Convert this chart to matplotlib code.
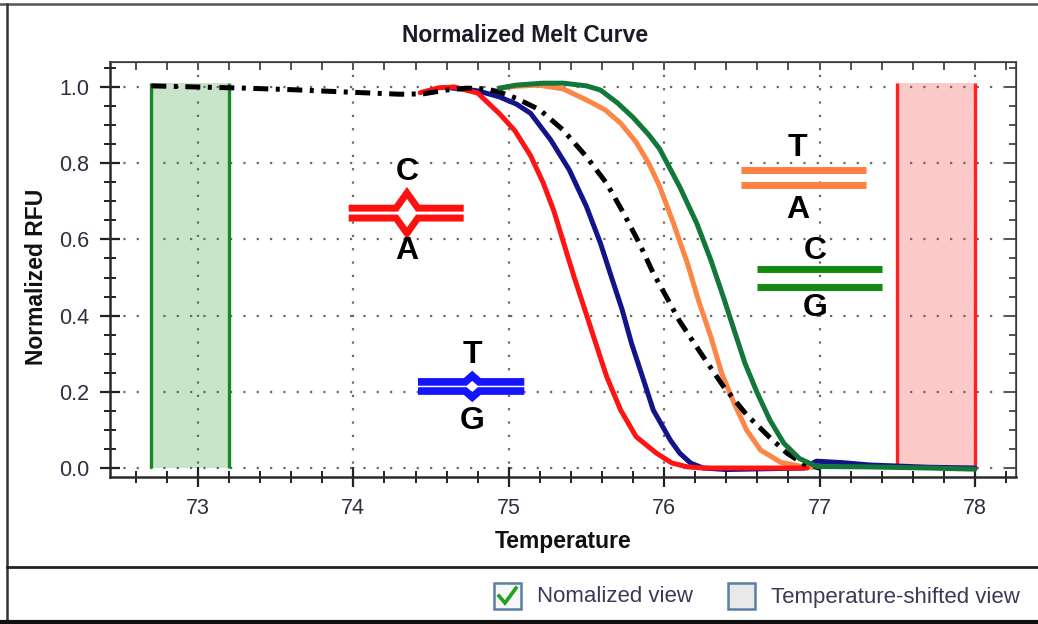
import matplotlib
matplotlib.use("Agg")
import matplotlib.pyplot as plt
from matplotlib.lines import Line2D
from matplotlib.patches import Rectangle
from matplotlib.ticker import MultipleLocator, FormatStrFormatter

plt.rcParams['font.family'] = ['Liberation Sans', 'DejaVu Sans']

# ---- melt curves (temperature, normalized RFU) ----
temp_black = [72.70, 73.00, 73.30, 73.60, 74.00, 74.30, 74.45, 74.60, 74.73, 74.85, 74.94,
              75.05, 75.20, 75.35, 75.50, 75.63, 75.74, 75.84, 75.93, 76.02, 76.10, 76.23,
              76.38, 76.53, 76.68, 76.79, 76.90, 77.00]
rfu_black = [1.003, 1.000, 0.997, 0.993, 0.986, 0.981, 0.982, 0.992, 0.997, 0.995, 0.987,
             0.970, 0.940, 0.887, 0.817, 0.747, 0.668, 0.590, 0.511, 0.445, 0.385, 0.305,
             0.215, 0.140, 0.080, 0.039, 0.010, 0.000]

temp_red = [74.43, 74.55, 74.65, 74.80, 74.94, 75.04, 75.14, 75.22, 75.29, 75.35, 75.42,
            75.49, 75.56, 75.63, 75.72, 75.82, 75.95, 76.05, 76.15, 76.25, 76.60, 76.92]
rfu_red = [0.985, 0.998, 1.000, 0.984, 0.930, 0.885, 0.820, 0.750, 0.675, 0.595, 0.502,
           0.415, 0.327, 0.240, 0.152, 0.082, 0.039, 0.013, 0.003, 0.000, 0.000, 0.000]

temp_blue = [74.62, 74.80, 74.94, 75.05, 75.14, 75.27, 75.39, 75.50, 75.59, 75.66, 75.73,
             75.79, 75.86, 75.93, 76.04, 76.10, 76.17, 76.25, 76.40, 76.90, 76.98, 77.15,
             77.32, 77.70, 78.00]
rfu_blue = [0.998, 0.990, 0.974, 0.955, 0.931, 0.861, 0.782, 0.686, 0.590, 0.502, 0.415,
            0.327, 0.240, 0.152, 0.073, 0.039, 0.013, 0.000, -0.004, 0.000, 0.018, 0.014,
            0.008, 0.002, 0.000]

temp_orange = [74.94, 75.05, 75.19, 75.35, 75.50, 75.62, 75.72, 75.82, 75.90, 75.97, 76.06,
               76.15, 76.22, 76.30, 76.37, 76.45, 76.53, 76.62, 76.75, 76.87, 76.95]
rfu_orange = [0.997, 1.002, 1.005, 0.995, 0.966, 0.940, 0.905, 0.855, 0.800, 0.740, 0.642,
              0.537, 0.441, 0.345, 0.249, 0.170, 0.100, 0.047, 0.015, 0.005, 0.002]

temp_green = [74.94, 75.05, 75.22, 75.35, 75.50, 75.59, 75.70, 75.80, 75.90, 75.97, 76.10,
              76.21, 76.30, 76.38, 76.45, 76.52, 76.60, 76.68, 76.77, 76.87, 76.98, 77.30,
              77.70, 78.00]
rfu_green = [0.997, 1.005, 1.010, 1.010, 1.003, 0.992, 0.958, 0.920, 0.875, 0.838, 0.738,
             0.642, 0.546, 0.450, 0.362, 0.275, 0.196, 0.126, 0.065, 0.025, 0.004, 0.003,
             0.000, -0.003]

# melt regions (start, end) and their top
pre_melt = (72.7, 73.2)
post_melt = (77.5, 78.0)
region_top = 1.01

x_ticks = [73, 74, 75, 76, 77, 78]
y_ticks = [0.0, 0.2, 0.4, 0.6, 0.8, 1.0]

W, H = 1038, 624
fig = plt.figure(figsize=(W / 100, H / 100), dpi=100)
ax = fig.add_axes([110 / W, (H - 477) / H, 906 / W, 415 / H])

# shaded melt regions
ax.fill_between(pre_melt, 0, region_top, color='#c9e5c9', zorder=1, lw=0)
ax.vlines(pre_melt, 0, region_top, color='#168a24', lw=2.4, zorder=2)
ax.fill_between(post_melt, 0, region_top, color='#fcc9c9', zorder=1, lw=0)
ax.vlines(post_melt, 0, region_top, color='#ff2020', lw=2.4, zorder=2)

# curves
lw = 3.6
ax.plot(temp_blue, rfu_blue, color='#13138a', lw=lw, zorder=3, solid_capstyle='round', solid_joinstyle='round')
ax.plot(temp_red, rfu_red, color='#ff1414', lw=lw, zorder=4, solid_capstyle='round', solid_joinstyle='round')
ax.plot(temp_orange, rfu_orange, color='#fb8646', lw=lw, zorder=3, solid_capstyle='round', solid_joinstyle='round')
ax.plot(temp_black, rfu_black, color='black', lw=lw, zorder=5,
        linestyle=(0, (3.0, 1.5, 0.8, 1.5)))
ax.plot(temp_green, rfu_green, color='#13773a', lw=lw, zorder=6, solid_capstyle='round', solid_joinstyle='round')


def base_pair(x0, x1, xc, y_up, y_lo, color, top, bottom, y_top, y_bot, bump=None, lw=5):
    if bump:
        hw, h = bump
        xs = [x0, xc - hw, xc, xc + hw, x1]
        ax.plot(xs, [y_up, y_up, y_up + h, y_up, y_up], color=color, lw=lw,
                solid_joinstyle='miter', solid_capstyle='butt', zorder=7)
        ax.plot(xs, [y_lo, y_lo, y_lo - h, y_lo, y_lo], color=color, lw=lw,
                solid_joinstyle='miter', solid_capstyle='butt', zorder=7)
    else:
        ax.plot([x0, x1], [y_up, y_up], color=color, lw=lw, solid_capstyle='butt', zorder=7)
        ax.plot([x0, x1], [y_lo, y_lo], color=color, lw=lw, solid_capstyle='butt', zorder=7)
    ax.text(xc, y_top, top, ha='center', va='center', fontsize=23, fontweight='bold', zorder=8)
    ax.text(xc, y_bot, bottom, ha='center', va='center', fontsize=23, fontweight='bold', zorder=8)


base_pair(73.97, 74.71, 74.345, 0.682, 0.656, '#ff1010', 'C', 'A', 0.777, 0.570, bump=(0.07, 0.040))
base_pair(74.416, 75.10, 74.765, 0.226, 0.202, '#1414ff', 'T', 'G', 0.297, 0.123, bump=(0.045, 0.016), lw=5.5)
base_pair(76.494, 77.30, 76.86, 0.782, 0.742, '#ff8040', 'T', 'A', 0.840, 0.677)
base_pair(76.60, 77.40, 76.97, 0.522, 0.475, '#128a12', 'C', 'G', 0.570, 0.420)

# axes, ticks, grid
ax.set_xlim(72.434, 78.264)
ax.set_ylim(-0.0236, 1.0656)
ax.set_xticks(x_ticks)
ax.set_yticks(y_ticks)
ax.yaxis.set_major_formatter(FormatStrFormatter('%.1f'))
ax.xaxis.set_minor_locator(MultipleLocator(0.2))
ax.yaxis.set_minor_locator(MultipleLocator(0.05))
ax.tick_params(which='major', direction='inout', length=14, width=1.6, pad=8,
               labelsize=15.5, labelcolor='#2e2e40', color='#222222')
ax.tick_params(which='minor', direction='inout', length=8, width=1.4, color='#222222')
ax.grid(True, which='major', linestyle=(0, (1, 5)), linewidth=1.6, color='#6a6a6a')
for s in ['left', 'bottom']:
    ax.spines[s].set_linewidth(1.8)
    ax.spines[s].set_color('#2a2a2a')
for s in ['top', 'right']:
    ax.spines[s].set_linewidth(1.2)
    ax.spines[s].set_color('#444444')

sec_x = ax.secondary_xaxis('top')
sec_x.set_xticks(x_ticks)
sec_x.xaxis.set_minor_locator(MultipleLocator(0.2))
sec_x.tick_params(which='both', direction='in', length=6, width=1.2, labeltop=False, color='#333333')
sec_y = ax.secondary_yaxis('right')
sec_y.set_yticks(y_ticks)
sec_y.yaxis.set_minor_locator(MultipleLocator(0.05))
sec_y.tick_params(which='major', direction='in', length=9, width=1.2, labelright=False, color='#333333')
sec_y.tick_params(which='minor', direction='in', length=5, width=1.2, labelright=False, color='#333333')

ax.set_xlabel('Temperature', fontsize=16.5, fontweight='bold', color='#111111')
ax.xaxis.set_label_coords(0.5, -0.127)
ax.set_ylabel('Normalized RFU', fontsize=16.5, fontweight='bold', color='#111111')
ax.yaxis.set_label_coords(-0.068, 0.482)

fig.text(525 / W, 1 - 35 / H, 'Normalized Melt Curve', ha='center', va='center',
         fontsize=16.5, fontweight='bold', color='#1a1a2a')

# window frame and bottom panel
fig.add_artist(Line2D([0, 1], [1 - 4 / H, 1 - 4 / H], color='#555555', lw=1.8))
fig.add_artist(Line2D([7 / W, 7 / W], [0, 1 - 4 / H], color='#333333', lw=1.8))
fig.add_artist(Line2D([7 / W, 1], [1 - 567 / H, 1 - 567 / H], color='#222222', lw=2))
fig.add_artist(Line2D([0, 1], [1 - 622 / H, 1 - 622 / H], color='#111111', lw=3))

fig.add_artist(Rectangle((494 / W, 1 - 609 / H), 27 / W, 26 / H, transform=fig.transFigure,
                         facecolor='#f7f7f7', edgecolor='#5a7ea8', lw=1.8))
fig.add_artist(Line2D([499 / W, 505 / W, 516 / W], [1 - 596 / H, 1 - 603 / H, 1 - 588 / H],
                      color='#1fa31f', lw=2.6, solid_joinstyle='miter'))
fig.text(537 / W, 1 - 597 / H, 'Nomalized view', ha='left', va='center',
         fontsize=16, color='#3a3a58')
fig.add_artist(Rectangle((728 / W, 1 - 609 / H), 27 / W, 26 / H, transform=fig.transFigure,
                         facecolor='#e9e9e9', edgecolor='#5a7ea8', lw=1.8))
fig.text(771 / W, 1 - 597 / H, 'Temperature-shifted view', ha='left', va='center',
         fontsize=16, color='#3a3a58')

fig.savefig('out.png', dpi=100)
